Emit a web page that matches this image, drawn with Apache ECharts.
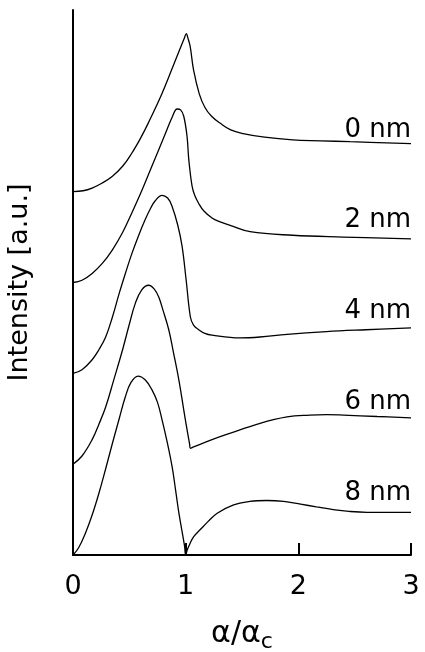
<!DOCTYPE html>
<html>
<head>
<meta charset="utf-8">
<script src="https://cdn.jsdelivr.net/npm/echarts@6/dist/echarts.min.js"></script>
<style>html,body{margin:0;padding:0;background:#fff;}#c{width:425px;height:652px;}</style>
</head>
<body>
<div id="c"></div>
<script>
// ---- data ----
const xTickValues = [0, 1, 2, 3];
const seriesNames = ['0 nm', '2 nm', '4 nm', '6 nm', '8 nm'];
const offsets = [4, 3, 2, 1, 0];

const x0nm = [0, 0.09, 0.17, 0.26, 0.35, 0.44, 0.52, 0.60, 0.67, 0.79, 0.91, 0.985, 1.006, 1.02, 1.04, 1.07, 1.12, 1.17, 1.23, 1.31, 1.40, 1.51, 1.70, 1.95, 2.20, 2.46, 3.0];
const y0nm = [0, 0.01, 0.04, 0.095, 0.17, 0.28, 0.42, 0.59, 0.76, 1.08, 1.45, 1.68, 1.74, 1.69, 1.60, 1.34, 1.08, 0.93, 0.83, 0.75, 0.68, 0.64, 0.60, 0.57, 0.56, 0.55, 0.53];

const x2nm = [0, 0.08, 0.17, 0.26, 0.35, 0.44, 0.52, 0.61, 0.70, 0.82, 0.88, 0.924, 0.955, 0.983, 1.012, 1.028, 1.057, 1.08, 1.116, 1.16, 1.234, 1.30, 1.394, 1.572, 1.95, 2.40, 3.0];
const y2nm = [0, 0.025, 0.10, 0.21, 0.36, 0.55, 0.76, 1.01, 1.28, 1.64, 1.82, 1.91, 1.90, 1.83, 1.61, 1.35, 1.06, 0.96, 0.87, 0.79, 0.71, 0.67, 0.63, 0.56, 0.52, 0.50, 0.48];

const x4nm = [0, 0.08, 0.17, 0.23, 0.29, 0.35, 0.41, 0.47, 0.52, 0.58, 0.64, 0.69, 0.73, 0.79, 0.84, 0.879, 0.93, 0.968, 1.004, 1.042, 1.07, 1.116, 1.17, 1.234, 1.48, 1.66, 1.90, 2.25, 2.60, 3.0];
const y4nm = [0, 0.04, 0.15, 0.26, 0.40, 0.62, 0.88, 1.12, 1.31, 1.51, 1.69, 1.82, 1.90, 1.96, 1.93, 1.84, 1.63, 1.40, 1.03, 0.62, 0.53, 0.48, 0.44, 0.42, 0.39, 0.40, 0.43, 0.46, 0.48, 0.50];

const x6nm = [0, 0.08, 0.17, 0.23, 0.29, 0.36, 0.44, 0.50, 0.553, 0.61, 0.672, 0.72, 0.761, 0.80, 0.85, 0.89, 0.939, 0.997, 1.035, 1.042, 1.07, 1.234, 1.37, 1.66, 1.90, 2.10, 2.25, 2.40, 2.70, 3.0];
const y6nm = [0, 0.09, 0.27, 0.44, 0.63, 0.92, 1.26, 1.54, 1.77, 1.92, 1.97, 1.93, 1.84, 1.69, 1.48, 1.24, 0.93, 0.49, 0.22, 0.175, 0.19, 0.27, 0.33, 0.45, 0.52, 0.54, 0.545, 0.54, 0.525, 0.51];

const x8nm = [0, 0.05, 0.11, 0.17, 0.23, 0.29, 0.35, 0.41, 0.464, 0.515, 0.577, 0.64, 0.70, 0.75, 0.79, 0.84, 0.88, 0.91, 0.94, 0.99, 1.0, 1.015, 1.04, 1.07, 1.13, 1.20, 1.28, 1.42, 1.57, 1.72, 1.87, 2.02, 2.16, 2.31, 2.45, 2.61, 3.0];
const y8nm = [0, 0.08, 0.24, 0.44, 0.68, 0.95, 1.23, 1.50, 1.74, 1.90, 1.97, 1.93, 1.82, 1.68, 1.49, 1.22, 0.97, 0.72, 0.46, 0.10, 0, 0.06, 0.13, 0.20, 0.28, 0.37, 0.46, 0.55, 0.59, 0.60, 0.59, 0.56, 0.53, 0.50, 0.48, 0.47, 0.47];

const xs = [x0nm, x2nm, x4nm, x6nm, x8nm];
const ys = [y0nm, y2nm, y4nm, y6nm, y8nm];
const labelLift = 0.68;

// ---- chart ----
const FONT = 'DejaVu Sans';
const chart = echarts.init(document.getElementById('c'), null, {renderer: 'canvas'});
const series = seriesNames.map((name, i) => ({
  type: 'line',
  name: name,
  data: xs[i].map((x, k) => [x, ys[i][k] + offsets[i]]),
  showSymbol: false,
  smooth: 0.4,
  lineStyle: {color: '#000', width: 1.3},
  silent: true,
  markPoint: {
    symbol: 'circle',
    symbolSize: 0,
    silent: true,
    data: [{coord: [3, offsets[i] + labelLift]}],
    label: {
      show: true,
      position: 'left',
      distance: 0,
      formatter: name,
      color: '#000',
      fontFamily: FONT,
      fontSize: 26
    }
  }
}));

chart.setOption({
  backgroundColor: '#fff',
  animation: false,
  grid: {left: 73, right: 14, top: 10, bottom: 97, containLabel: false, outerBoundsMode: 'none'},
  xAxis: {
    type: 'value',
    min: 0, max: 3, interval: 1,
    name: 'α/α{s|c}',
    nameLocation: 'middle',
    nameGap: 60,
    nameTextStyle: {
      color: '#000', fontFamily: FONT, fontSize: 30,
      rich: {s: {fontFamily: FONT, fontSize: 22, color: '#000', padding: [16, 0, 0, 0]}}
    },
    axisLine: {lineStyle: {color: '#000', width: 2}},
    axisTick: {show: true, inside: true, length: 12, lineStyle: {color: '#000', width: 2}},
    axisLabel: {
      color: '#000', fontFamily: FONT, fontSize: 27, margin: 18,
      formatter: v => xTickValues.includes(v) ? String(v) : ''
    },
    splitLine: {show: false}
  },
  yAxis: {
    type: 'value',
    min: 0, max: 6,
    name: 'Intensity [a.u.]',
    nameLocation: 'middle',
    nameGap: 40,
    nameTextStyle: {color: '#000', fontFamily: FONT, fontSize: 27},
    axisLine: {show: true, lineStyle: {color: '#000', width: 2}},
    axisTick: {show: false},
    axisLabel: {show: false},
    splitLine: {show: false}
  },
  series: series
});
</script>
</body>
</html>
